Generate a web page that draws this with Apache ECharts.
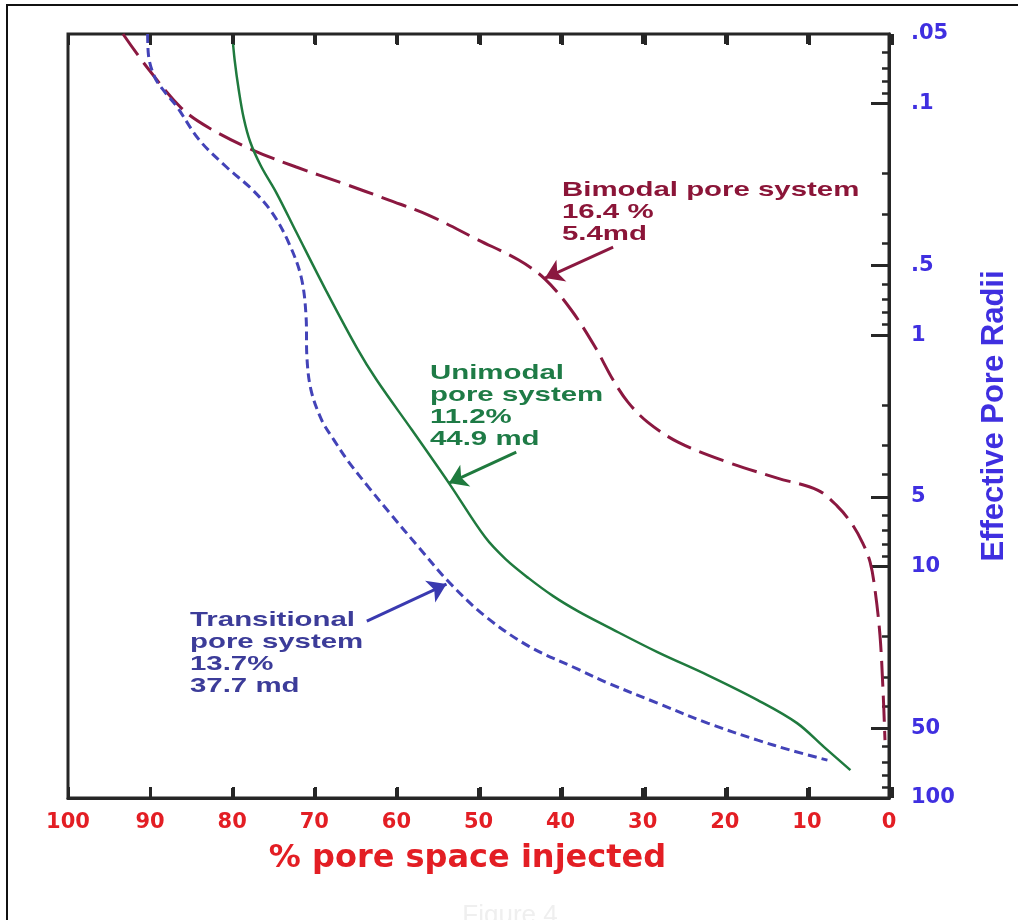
<!DOCTYPE html>
<html><head><meta charset="utf-8">
<script src="https://cdn.jsdelivr.net/npm/echarts@6/dist/echarts.min.js"></script>
<style>html,body{margin:0;padding:0;background:#fff}#chart{width:1018px;height:920px}</style>
</head><body><div id="chart"></div>
<script>
// ---- data ----
// x: % pore space injected ; y: effective pore radius (log scale)
const bimodalPct = [93.3, 90.4, 86.2, 82.8, 77.5, 72.2, 66.6, 60.9, 56.1, 50.0, 45.1, 41.9, 38.7, 35.8, 33.6, 31.8, 29.4, 25.7, 19.7, 13.6, 8.7, 6.3, 4.5, 3.2, 2.3, 1.7, 1.1, 0.73, 0.49];
const bimodalRad = [0.050, 0.0694, 0.1044, 0.1274, 0.1586, 0.1878, 0.2203, 0.2609, 0.3029, 0.3884, 0.474, 0.5725, 0.779, 1.126, 1.564, 1.947, 2.376, 2.899, 3.537, 4.148, 4.674, 5.481, 6.554, 7.92, 9.57, 12.64, 19.79, 34.19, 56.2];

const unimodalPct = [80.0, 79.7, 79.2, 78.6, 77.8, 76.5, 74.6, 72.2, 68.6, 64.8, 62.4, 58.1, 53.6, 49.2, 46.7, 43.9, 40.9, 37.9, 34.2, 28.2, 22.1, 16.0, 11.2, 7.9, 4.7];
const unimodalRad = [0.05, 0.0648, 0.0873, 0.1153, 0.1464, 0.1859, 0.2433, 0.3586, 0.6388, 1.138, 1.564, 2.572, 4.359, 7.46, 9.287, 11.22, 13.42, 15.58, 18.27, 23.43, 29.45, 37.77, 47.48, 60.31, 75.8];

const transPct = [90.3, 90.2, 89.4, 88.2, 86.8, 84.0, 80.7, 77.5, 75.1, 73.1, 71.6, 71.0, 70.9, 70.4, 69.1, 67.6, 65.8, 63.3, 60.9, 57.3, 53.6, 49.2, 43.9, 37.9, 34.2, 28.2, 22.1, 16.0, 12.0, 7.5];
const transRad = [0.05, 0.0616, 0.0774, 0.0891, 0.1023, 0.1436, 0.1878, 0.2361, 0.297, 0.4001, 0.5611, 0.8356, 1.244, 1.728, 2.328, 2.842, 3.537, 4.581, 5.818, 8.241, 11.67, 16.37, 22.07, 27.75, 31.89, 38.91, 47.48, 56.23, 62.12, 68.61];

const pctTickMarks = [10, 20, 30, 40, 50, 60, 70, 80, 90];
const radiusLabelValues = [0.05, 0.1, 0.5, 1, 5, 10, 50, 100];
const radiusLabels = ['.05', '.1', '.5', '1', '5', '10', '50', '100'];
const majorTickRadii = [0.1, 0.5, 1, 5, 10, 50];
const minorTickRadii = [0.06, 0.07, 0.08, 0.09, 0.2, 0.3, 0.4, 0.6, 0.7, 0.8, 0.9, 2, 3, 4, 6, 7, 8, 9, 20, 30, 40, 60, 70, 80, 90];

// annotation arrows: [tailPct, tailRad, tipPct, tipRad]
const bimodalArrow = [33.6, 0.4165, 41.9, 0.567];
const unimodalArrow = [45.4, 3.20, 53.6, 4.36];
const transArrow = [63.6, 17.2, 53.9, 11.9];

const bimodalText = 'Bimodal pore system\n16.4 %\n5.4md';
const unimodalText = 'Unimodal\npore system\n11.2%\n44.9 md';
const transText = 'Transitional\npore system\n13.7%\n37.7 md';

// ---- build ----
const L = v => Math.log10(v);
const pairs = (xs, rs) => xs.map((x, i) => [x, L(rs[i])]);
const C_RED = '#8b1840', C_GREEN = '#1f7a3e', C_BLUE = '#4343b8', C_AX_X = '#e31e24', C_AX_Y = '#3f2fe0';
const AX = '#262626';
const yMin = L(0.05), yMax = L(100);
const GRID_H = 764;
const TICK = 10 * (yMax - yMin) / GRID_H; // 10px tick length in axis units

const arrowPair = a => [{ coord: [a[0], L(a[1])] }, { coord: [a[2], L(a[3])] }];
const markLineOf = (color, dataPairs) => ({
  silent: true, animation: false, symbol: ['none', 'arrow'], symbolSize: 18,
  label: { show: false }, lineStyle: { color: color, width: 3, type: 'solid' },
  emphasis: { disabled: true },
  data: dataPairs
});
const tickLS = { color: AX, width: 3, type: 'solid' };
const xTickPairs = [];
pctTickMarks.forEach(v => {
  xTickPairs.push([{ coord: [v, yMax], symbol: 'none', lineStyle: tickLS }, { coord: [v, yMax - TICK], symbol: 'none', lineStyle: tickLS }]);
  xTickPairs.push([{ coord: [v, yMin], symbol: 'none', lineStyle: tickLS }, { coord: [v, yMin + TICK], symbol: 'none', lineStyle: tickLS }]);
});

const lblFont = { fontFamily: 'DejaVu Sans', fontWeight: 'bold', fontSize: 21 };
const tickStyle = { color: AX, width: 3 };
// thin strip axes whose split lines act as the 10%-tick marks on the bottom and top frame edges
const stripX = gi => ({
  type: 'value', gridIndex: gi, min: 0, max: 100, interval: 10, inverse: true,
  axisLine: { show: false }, axisTick: { show: false }, axisLabel: { show: false },
  splitLine: { show: true, lineStyle: { color: AX, width: 3, type: 'solid' } }
});
const stripY = gi => ({
  type: 'value', gridIndex: gi, min: 0, max: 1,
  axisLine: { show: false }, axisTick: { show: false }, axisLabel: { show: false }, splitLine: { show: false }
});

const chart = echarts.init(document.getElementById('chart'));
chart.setOption({
  animation: false,
  backgroundColor: '#fff',
  grid: [
    { left: 68, right: 126, top: 34, bottom: 122, show: true, borderColor: AX, borderWidth: 3, backgroundColor: 'transparent' },
    { left: 68, right: 126, top: 787, height: 11, show: false },
    { left: 68, right: 126, top: 34, height: 11, show: false }
  ],
  xAxis: [{
    type: 'value', gridIndex: 0, position: 'bottom', min: 0, max: 100, interval: 10, inverse: true,
    axisLine: { show: true, onZero: false, lineStyle: { color: AX, width: 3 } },
    axisTick: { show: false },
    axisLabel: Object.assign({ color: C_AX_X, margin: 14 }, lblFont),
    splitLine: { show: false },
    name: '% pore space injected', nameLocation: 'middle', nameGap: 45,
    nameTextStyle: { color: C_AX_X, fontFamily: 'DejaVu Sans', fontWeight: 'bold', fontSize: 32, padding: [0, 22, 0, 0] }
  }, stripX(1), stripX(2)],
  yAxis: [{
    type: 'value', gridIndex: 0, position: 'right', inverse: true, min: yMin, max: yMax,
    axisLine: { show: true, onZero: false, lineStyle: { color: AX, width: 3 } },
    axisTick: { show: true, inside: true, length: 18, customValues: majorTickRadii.map(L), lineStyle: tickStyle },
    axisLabel: Object.assign({
      color: C_AX_Y, margin: 22, customValues: radiusLabelValues.map(L),
      formatter: v => { const i = radiusLabelValues.findIndex(r => Math.abs(L(r) - v) < 1e-6); return i >= 0 ? radiusLabels[i] : ''; }
    }, lblFont),
    splitLine: { show: false },
    name: 'Effective Pore Radii', nameLocation: 'middle', nameRotate: 90, nameGap: 90,
    nameTextStyle: { color: C_AX_Y, fontFamily: 'Liberation Sans', fontWeight: 'bold', fontSize: 31 }
  }, {
    type: 'value', gridIndex: 0, position: 'right', inverse: true, min: yMin, max: yMax,
    axisLine: { show: false, onZero: false },
    axisTick: { show: true, inside: true, length: 7, customValues: minorTickRadii.map(L), lineStyle: { color: AX, width: 2.5 } },
    axisLabel: { show: false }, splitLine: { show: false }
  }, stripY(1), stripY(2)],
  series: [{
    name: 'Bimodal pore system', type: 'line', xAxisIndex: 0, yAxisIndex: 0, smooth: 0.35, symbol: 'none',
    data: pairs(bimodalPct, bimodalRad),
    lineStyle: { color: C_RED, width: 3, type: [26, 9] },
    markLine: markLineOf(C_RED, [arrowPair(bimodalArrow)])
  }, {
    name: 'Unimodal pore system', type: 'line', xAxisIndex: 0, yAxisIndex: 0, smooth: 0.35, symbol: 'none',
    data: pairs(unimodalPct, unimodalRad),
    lineStyle: { color: C_GREEN, width: 2.5, type: 'solid' },
    markLine: markLineOf(C_GREEN, [arrowPair(unimodalArrow)].concat(xTickPairs))
  }, {
    name: 'Transitional pore system', type: 'line', xAxisIndex: 0, yAxisIndex: 0, smooth: 0.35, symbol: 'none',
    data: pairs(transPct, transRad),
    lineStyle: { color: C_BLUE, width: 3, type: [9, 5] },
    markLine: markLineOf('#3a3ab0', [arrowPair(transArrow)])
  }],
  graphic: [
    { type: 'rect', shape: { x: 7, y: 5, width: 1040, height: 950 }, style: { fill: 'none', stroke: '#111', lineWidth: 2 }, silent: true },
    { type: 'text', x: 562, y: 179, scaleX: 1.4, style: { text: bimodalText, font: 'bold 21px "Liberation Sans"', fill: '#8b1538', lineHeight: 22, verticalAlign: 'top' } },
    { type: 'text', x: 430, y: 362, scaleX: 1.4, style: { text: unimodalText, font: 'bold 21px "Liberation Sans"', fill: '#1e7b46', lineHeight: 22, verticalAlign: 'top' } },
    { type: 'text', x: 190, y: 609, scaleX: 1.4, style: { text: transText, font: 'bold 21px "Liberation Sans"', fill: '#3c3c99', lineHeight: 22, verticalAlign: 'top' } },
    { type: 'text', x: 510, y: 903, style: { text: 'Figure 4', font: '26px "Liberation Sans"', fill: '#efefef', align: 'center', verticalAlign: 'top' } }
  ]
});
</script></body></html>
